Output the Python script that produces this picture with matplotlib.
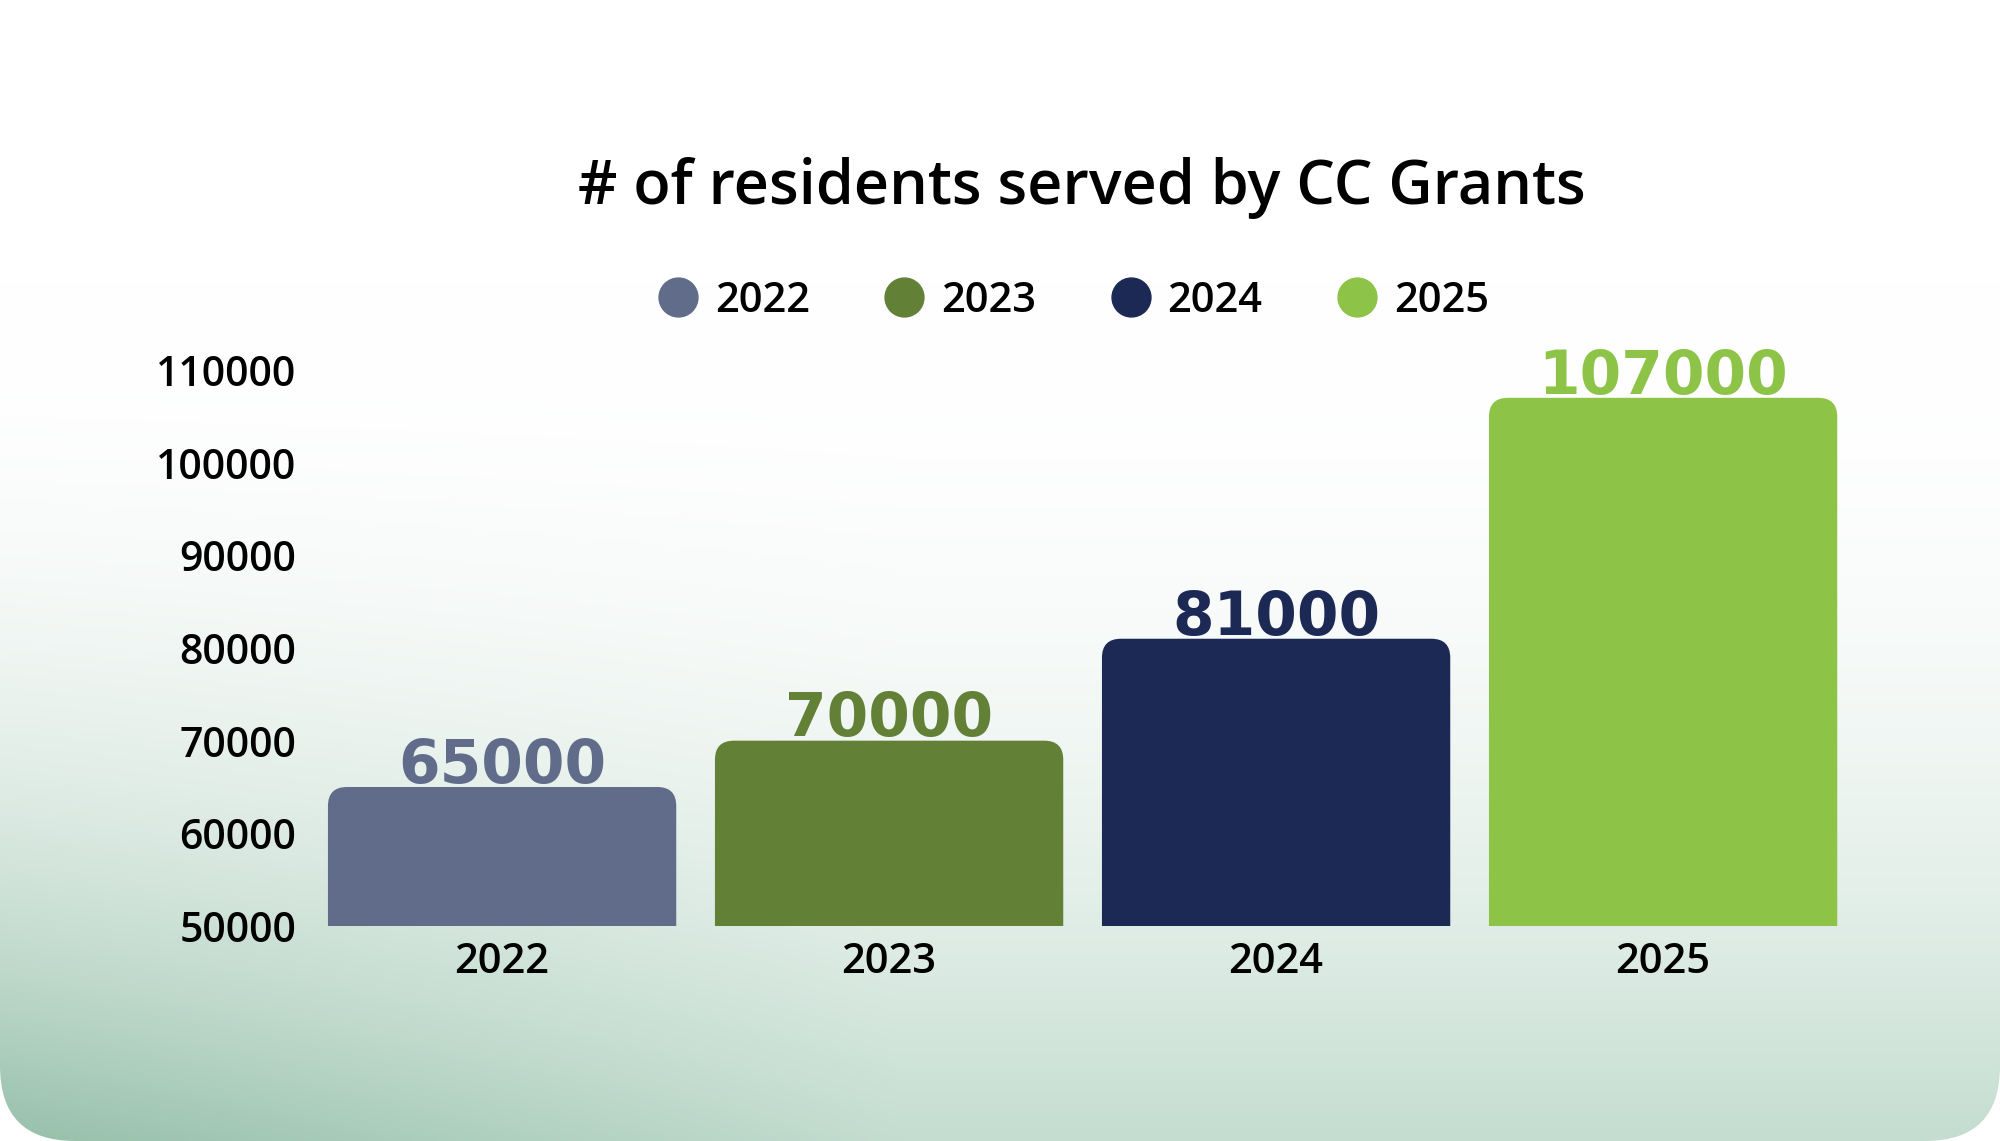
import numpy as np
import matplotlib.pyplot as plt
from matplotlib.patches import FancyBboxPatch
from matplotlib.lines import Line2D

plt.rcParams['font.family'] = ['Open Sans', 'DejaVu Sans']

years = ['2022', '2023', '2024', '2025']
residents = [65000, 70000, 81000, 107000]
colors = ['#616c8a', '#628137', '#1c2955', '#8dc447']
y_ticks = [50000, 60000, 70000, 80000, 90000, 100000, 110000]
title = '# of residents served by CC Grants'

W, H = 2000, 1141
fig = plt.figure(figsize=(W / 100, H / 100), dpi=100)
fig.patch.set_facecolor('white')

# background panel: white at the top fading to pale green, rounded bottom corners
bg = fig.add_axes([0, 0, 1, 1])
bg.set_xlim(0, W)
bg.set_ylim(H, 0)
bg.axis('off')
yy, xx = np.mgrid[0:1:300j, 0:1:400j]
t = np.clip((yy - 0.25) / 0.75, 0, 1) ** 2.2
left = np.array([150, 192, 170]) / 255
right = np.array([196, 221, 208]) / 255
s = np.clip(xx / 0.45, 0, 1)[..., None]
bottom_col = left * (1 - s) + right * s
img = 1 - t[..., None] * (1 - bottom_col)
im = bg.imshow(img, extent=[0, W, H, 0], aspect='auto', zorder=0, interpolation='bilinear')
panel = FancyBboxPatch((0, -100), W, H + 100, boxstyle='round,pad=0,rounding_size=75',
                       transform=bg.transData, facecolor='none', edgecolor='none')
bg.add_patch(panel)
im.set_clip_path(panel)

# main chart
ax = fig.add_axes([308.6 / W, 1 - 926 / H, 1548 / W, 556 / H])
ax.set_facecolor('none')
x = np.arange(len(years))
bars = ax.bar(x, residents, width=0.9, color=colors)
ax.set_xlim(-0.5, 3.5)
ax.set_ylim(50000, 110000)

# swap plain bars for ones with rounded top corners (bottom is clipped by the axes)
rx = 19 / 387
ry = 19 / (556 / 60000)
for b, c in zip(bars, colors):
    b.set_visible(False)
    p = FancyBboxPatch((b.get_x(), 0), b.get_width(), b.get_height(),
                       boxstyle=f'round,pad=0,rounding_size={rx}',
                       mutation_aspect=ry / rx, facecolor=c, edgecolor='none')
    ax.add_patch(p)
    ax.annotate(f'{int(b.get_height())}', (b.get_x() + b.get_width() / 2, b.get_height()),
                xytext=(0, 3), textcoords='offset points', ha='center', va='baseline',
                fontsize=43, fontweight='bold', color=c, family='DejaVu Sans',
                annotation_clip=False)

ax.set_xticks(x)
ax.set_xticklabels(years)
ax.set_yticks(y_ticks)
ax.set_yticklabels([str(v) for v in y_ticks])
ax.tick_params(length=0, labelsize=30)
ax.tick_params(axis='y', labelsize=29.5, pad=9)
ax.tick_params(axis='x', pad=11)
for lbl in ax.get_xticklabels() + ax.get_yticklabels():
    lbl.set_fontweight('semibold')
for sp in ax.spines.values():
    sp.set_visible(False)

handles = [Line2D([], [], marker='o', ls='', markersize=28, color=c) for c in colors]
leg = fig.legend(handles, years, loc='center', bbox_to_anchor=(1073 / W, 1 - 301 / H),
                 ncol=4, frameon=False, fontsize=30, handlelength=1.0,
                 handletextpad=0.38, columnspacing=1.77)
for txt in leg.get_texts():
    txt.set_fontweight('semibold')

fig.text(1082 / W, 1 - 188 / H, title, ha='center', va='center',
         fontsize=44, fontweight='semibold', color='black')

fig.savefig('out.png', dpi=100)
